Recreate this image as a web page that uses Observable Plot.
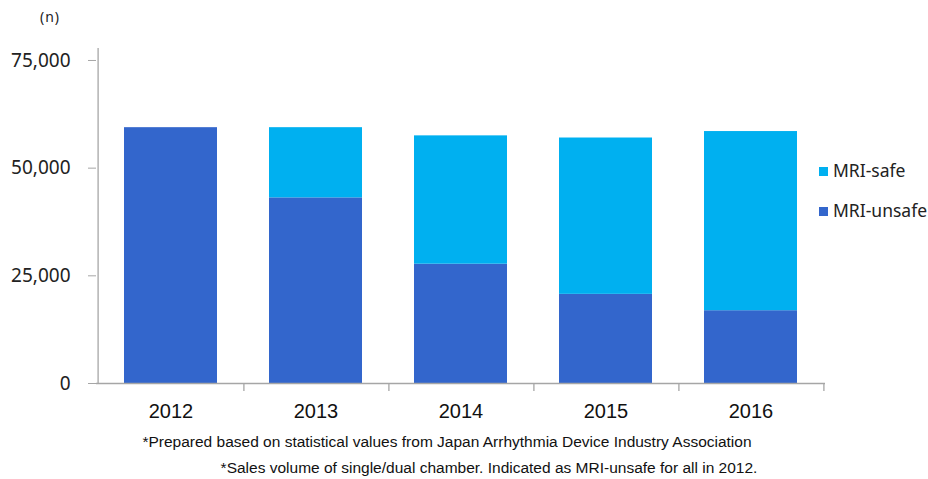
<!DOCTYPE html>
<html>
<head>
<meta charset="utf-8">
<script src="https://cdn.jsdelivr.net/npm/d3@7"></script>
<script src="https://cdn.jsdelivr.net/npm/@observablehq/plot@0.6"></script>
<style>
  html, body { margin: 0; padding: 0; background: #fff; }
  #wrap { position: relative; width: 928px; height: 479px; overflow: hidden; }
  .unit { position: absolute; left: 40px; top: 7px; font: 14px "Noto Sans", sans-serif; color: #222; letter-spacing: 1px; }
  .leg { position: absolute; left: 819px; font: 17.5px "Noto Sans", sans-serif; color: #222; white-space: nowrap; }
  .leg span.sw { display: inline-block; width: 9px; height: 9px; margin-right: 5px; vertical-align: 1px; }
  .note { position: absolute; font: 15.5px "Liberation Sans Narrow", "Liberation Sans", sans-serif; color: #111; white-space: nowrap; transform: translateX(-50%); }
</style>
</head>
<body>
<div id="wrap"></div>
<script>
const years = ["2012", "2013", "2014", "2015", "2016"];
const unsafe = [59400, 43100, 27700, 20700, 16900];
const safe = [0, 16300, 29800, 36300, 41600];
const seriesNames = ["MRI-safe", "MRI-unsafe"];
const seriesColors = ["#00B0F0", "#3366CC"];
const yTicks = [0, 25000, 50000, 75000];
const notes = [
  "*Prepared based on statistical values from Japan Arrhythmia Device Industry Association",
  "*Sales volume of single/dual chamber. Indicated as MRI-unsafe for all in 2012."
];

const rows = [];
years.forEach((y, i) => {
  rows.push({year: y, type: "MRI-unsafe", value: unsafe[i]});
  rows.push({year: y, type: "MRI-safe", value: safe[i]});
});

const W = 928, H = 425;
const mL = 96, mR = 103, mT = 40, mB = 42;
const step = (W - mL - mR) / years.length;
const axisColor = "#a6a6a6";

const chart = Plot.plot({
  width: W,
  height: H,
  marginLeft: mL,
  marginRight: mR,
  marginTop: mT,
  marginBottom: mB,
  style: {background: "transparent", overflow: "visible"},
  x: {domain: years, paddingInner: 0.356, paddingOuter: 0.178, label: null},
  y: {domain: [0, 79640], label: null},
  color: {domain: seriesNames, range: seriesColors},
  marks: [
    Plot.barY(rows, Plot.stackY({x: "year", y: "value", fill: "type"})),
    Plot.ruleY([0], {stroke: axisColor, strokeWidth: 1.3}),
    Plot.ruleX([years[0]], {y1: 0, y2: 79640, dx: -step / 2, stroke: axisColor, strokeWidth: 1.3, insetBottom: -8}),
    Plot.ruleX(years, {y1: 0, y2: 0, dx: step / 2, stroke: axisColor, strokeWidth: 1.3, insetBottom: -8}),
    Plot.axisY({ticks: yTicks, tickFormat: d3.format(","), tickSize: 8, tickPadding: 18, stroke: axisColor,
      fontSize: 19, fontFamily: "Noto Sans", fill: "#222", label: null}),
    Plot.axisX({tickSize: 0, tickPadding: 20, fontSize: 20, fontFamily: "Liberation Sans", fill: "#111", label: null})
  ]
});

const wrap = document.getElementById("wrap");
wrap.appendChild(chart);

const unit = document.createElement("div");
unit.className = "unit";
unit.textContent = "(n)";
wrap.appendChild(unit);

seriesNames.forEach((name, i) => {
  const d = document.createElement("div");
  d.className = "leg";
  d.style.top = (158 + i * 40) + "px";
  const sw = document.createElement("span");
  sw.className = "sw";
  sw.style.background = seriesColors[i];
  d.appendChild(sw);
  d.appendChild(document.createTextNode(name));
  wrap.appendChild(d);
});

const noteX = [447, 489];
const noteTop = [433, 459];
notes.forEach((t, i) => {
  const d = document.createElement("div");
  d.className = "note";
  d.style.left = noteX[i] + "px";
  d.style.top = noteTop[i] + "px";
  d.textContent = t;
  wrap.appendChild(d);
});
</script>
</body>
</html>
